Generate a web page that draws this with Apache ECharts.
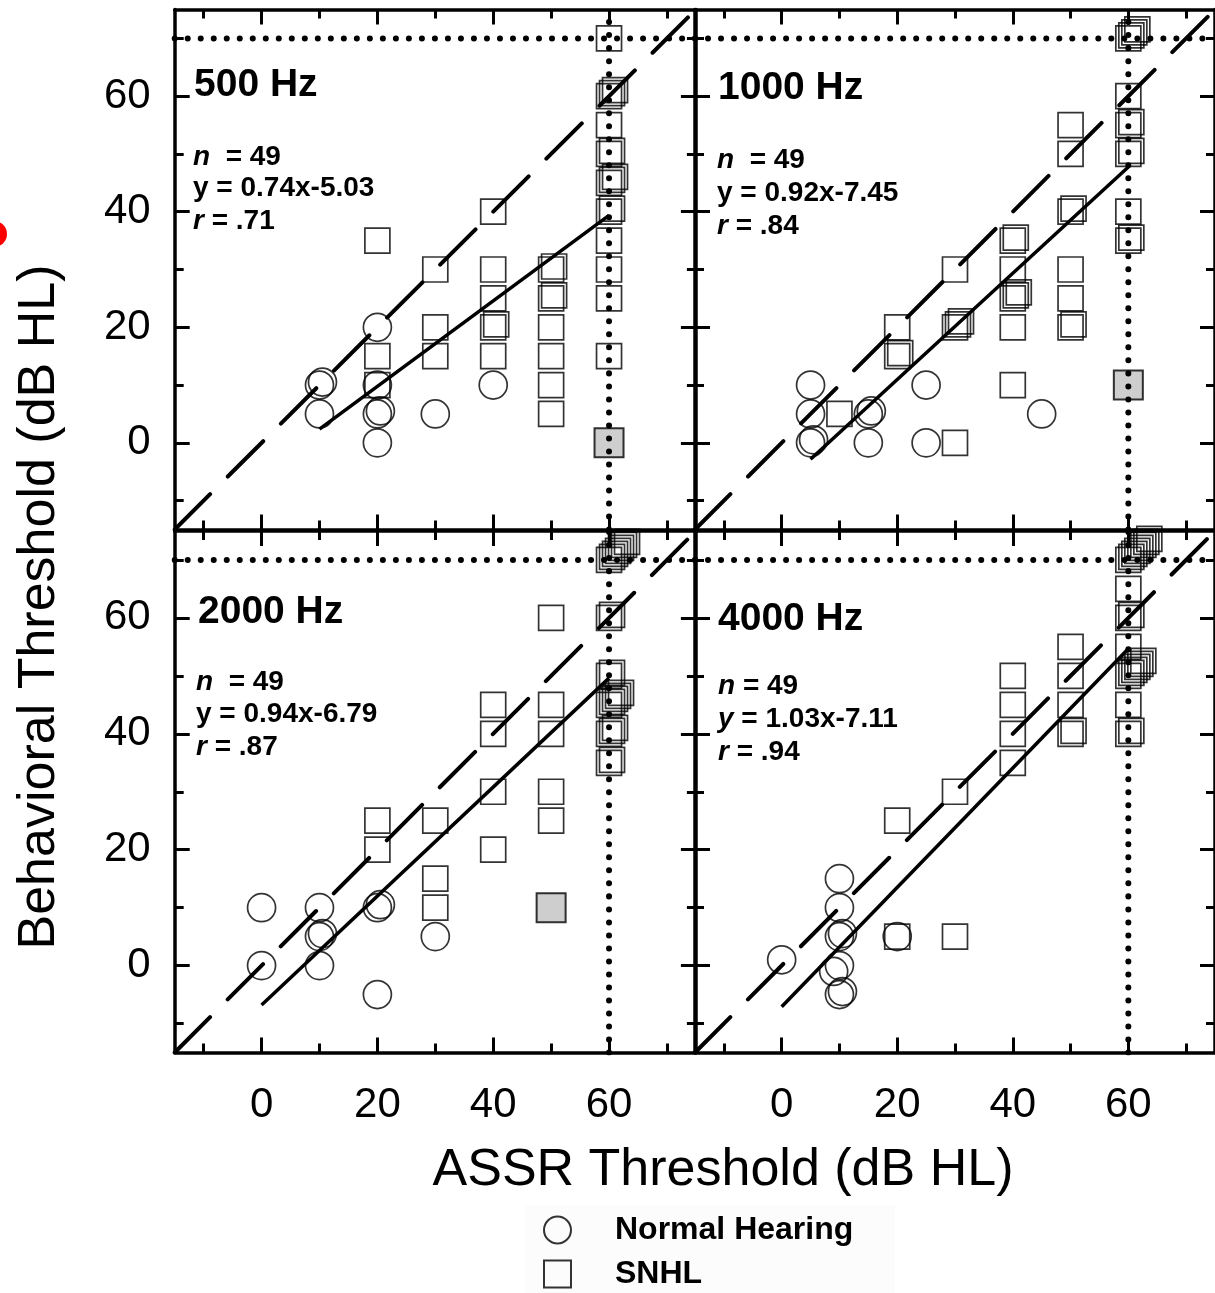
<!DOCTYPE html>
<html><head><meta charset="utf-8">
<script src="https://cdn.jsdelivr.net/npm/echarts@6/dist/echarts.min.js"></script>
<style>html,body{margin:0;padding:0;background:#fff}#c{width:1215px;height:1293px}</style>
</head><body><div id="c"></div>
<script>
// ---------------- data ----------------
const PANEL_TITLES = ['500 Hz', '1000 Hz', '2000 Hz', '4000 Hz'];
const N_VALUES = [49, 49, 49, 49];
const SLOPES = [0.74, 0.92, 0.94, 1.03];
const INTERCEPTS = [-5.03, -7.45, -6.79, -7.11];
const R_VALUES = ['.71', '.84', '.87', '.94'];
const FIT_X_RANGES = [[10, 60], [5, 60], [0, 60], [0, 60]];
const AXIS_RANGE = [-15, 75];
const TICK_LABELS = [0, 20, 40, 60];
const MINOR_TICKS = [-10, 10, 30, 50, 70];
const ASSR_CEILING = 60;
const BEHAV_CEILING = 70;

// [ASSR, behavioral, number of overlapping subjects]
const NH_500 = [[10,10,2],[10,5,1],[20,20,1],[20,10,1],[20,5,2],[20,0,1],[30,5,1],[40,10,1]];
const SNHL_500 = [[20,35,1],[20,15,1],[20,10,1],[30,30,1],[30,20,1],[30,15,1],[40,40,1],[40,30,1],[40,25,1],[40,20,2],[40,15,1],
  [50,30,2],[50,25,2],[50,20,1],[50,15,1],[50,10,1],[50,5,1],[60,70,1],[60,60,3],[60,55,1],[60,50,2],[60,45,3],[60,40,2],
  [60,35,1],[60,30,1],[60,25,1],[60,15,1]];
const GRAY_500 = [[60,0]];

const NH_1000 = [[5,10,1],[5,5,1],[5,0,2],[15,5,2],[15,0,1],[25,10,1],[25,0,1],[45,5,1]];
const SNHL_1000 = [[10,5,1],[20,20,1],[20,15,2],[30,30,1],[30,20,3],[30,0,1],[40,35,2],[40,30,1],[40,25,3],[40,20,1],[40,10,1],
  [50,55,1],[50,50,1],[50,40,2],[50,30,1],[50,25,1],[50,20,2],[60,70,4],[60,60,1],[60,55,2],[60,50,2],[60,40,1],[60,35,2]];
const GRAY_1000 = [[60,10]];

const NH_2000 = [[0,10,1],[0,0,1],[10,10,1],[10,5,2],[10,0,1],[20,10,2],[20,-5,1],[30,5,1]];
const SNHL_2000 = [[20,25,1],[20,20,1],[30,25,1],[30,15,1],[30,10,1],[40,45,1],[40,40,1],[40,30,1],[40,20,1],
  [50,60,1],[50,45,1],[50,40,1],[50,30,1],[50,25,1],[60,70,7],[60,60,2],[60,50,2],[60,45,5],[60,40,3],[60,35,2]];
const GRAY_2000 = [[50,10]];

const NH_4000 = [[0,1,1],[10,15,1],[10,10,1],[10,5,2],[10,0,1],[9,-1,1],[10,-5,2],[20,5,1]];
const SNHL_4000 = [[20,25,1],[20,5,1],[30,30,1],[30,5,1],[40,50,1],[40,45,1],[40,40,1],[40,35,1],[50,55,1],[50,50,1],[50,45,1],
  [50,40,2],[60,70,8],[60,65,1],[60,60,2],[60,55,1],[60,50,6],[60,45,1],[60,40,2]];
const GRAY_4000 = [];

const NH_ALL = [NH_500, NH_1000, NH_2000, NH_4000];
const SNHL_ALL = [SNHL_500, SNHL_1000, SNHL_2000, SNHL_4000];
const GRAY_ALL = [GRAY_500, GRAY_1000, GRAY_2000, GRAY_4000];

// ---------------- layout / style ----------------
const FF = '"Liberation Sans", Arial, sans-serif';
const GRIDS = [
  {left: 174.7, top: 9.5, width: 521.2, height: 520},
  {left: 695, top: 9.5, width: 521, height: 520},
  {left: 174.7, top: 531, width: 521.2, height: 521.5},
  {left: 695, top: 531, width: 521, height: 521.5}
];
const DUP_STEP = 3;

function expand(points) {
  const out = [];
  points.forEach(p => { for (let k = 0; k < p[2]; k++) out.push({value: [p[0], p[1]], symbolOffset: [k * DUP_STEP, -k * DUP_STEP]}); });
  return out;
}

const xAxes = [], yAxes = [], series = [];
const labelStyle = {color: '#000', fontFamily: FF, fontSize: 42};

function mkAxis(gi, pos, major, showLabel, isX) {
  return {
    type: 'value', gridIndex: gi, position: pos, min: AXIS_RANGE[0], max: AXIS_RANGE[1],
    axisLine: {show: major, onZero: false, lineStyle: {color: '#000', width: 3.5}},
    axisTick: {show: true, inside: true, length: major ? 15 : 9, lineStyle: {color: '#000', width: 3},
      customValues: major ? TICK_LABELS : MINOR_TICKS},
    axisLabel: Object.assign({show: showLabel, customValues: TICK_LABELS, margin: isX ? 32 : 24}, labelStyle),
    splitLine: {show: false}
  };
}

const mainX = [], mainY = [];
for (let g = 0; g < 4; g++) {
  const bottomRow = g >= 2, leftCol = g % 2 === 0;
  mainX[g] = xAxes.length;
  xAxes.push(mkAxis(g, 'bottom', true, bottomRow, true));
  xAxes.push(mkAxis(g, 'bottom', false, false, true));
  xAxes.push(mkAxis(g, 'top', true, false, true));
  xAxes.push(mkAxis(g, 'top', false, false, true));
  mainY[g] = yAxes.length;
  yAxes.push(mkAxis(g, 'left', true, leftCol, false));
  yAxes.push(mkAxis(g, 'left', false, false, false));
  yAxes.push(mkAxis(g, 'right', true, false, false));
  yAxes.push(mkAxis(g, 'right', false, false, false));
}

const markStyle = {color: 'rgba(0,0,0,0)', borderColor: '#000', borderWidth: 1.7};
for (let g = 0; g < 4; g++) {
  const common = {xAxisIndex: mainX[g], yAxisIndex: mainY[g], animation: false, emphasis: {disabled: true}, silent: true};
  series.push(Object.assign({
    type: 'scatter', name: 'Normal Hearing', symbol: 'circle', symbolSize: 28, itemStyle: markStyle, z: 3,
    data: expand(NH_ALL[g])
  }, common));
  const sq = expand(SNHL_ALL[g]);
  GRAY_ALL[g].forEach(p => sq.push({value: p, symbolSize: 29, itemStyle: {color: '#c2c2c2', borderColor: '#000', borderWidth: 2}}));
  series.push(Object.assign({
    type: 'scatter', name: 'SNHL', symbol: 'rect', symbolSize: 25, itemStyle: markStyle, z: 3, data: sq
  }, common));
  // identity line
  series.push(Object.assign({
    type: 'line', symbol: 'none', z: 5, clip: true,
    lineStyle: {color: '#000', width: 4, type: [50, 25], cap: 'round'},
    data: [[AXIS_RANGE[0], AXIS_RANGE[0]], [AXIS_RANGE[1], AXIS_RANGE[1]]]
  }, common));
  // regression line
  const fr = FIT_X_RANGES[g];
  series.push(Object.assign({
    type: 'line', symbol: 'none', z: 5,
    lineStyle: {color: '#000', width: 3.5},
    data: fr.map(x => [x, SLOPES[g] * x + INTERCEPTS[g]])
  }, common));
  // ceilings (dotted)
  const dotted = {color: '#000', width: 6, type: [0.01, 13], cap: 'round'};
  series.push(Object.assign({
    type: 'line', symbol: 'none', z: 6, lineStyle: dotted,
    data: [[AXIS_RANGE[0], BEHAV_CEILING], [AXIS_RANGE[1], BEHAV_CEILING]]
  }, common));
  series.push(Object.assign({
    type: 'line', symbol: 'none', z: 6, lineStyle: dotted,
    data: [[ASSR_CEILING, AXIS_RANGE[0]], [ASSR_CEILING, AXIS_RANGE[1]]]
  }, common));
}

// text annotations
const TITLE_POS = [[194, 85], [718, 88], [198, 612], [718, 619]];
const STAT_POS = [[193, 157, 188, 221], [717, 160, 193, 226], [196, 682, 714, 747], [718, 686, 719, 752]];
const STAT_FS = 28;
const graphics = [];
graphics.push({type: 'rect', shape: {x: 525, y: 1205, width: 370, height: 88}, style: {fill: '#fcfcfc'}, z: -10, silent: true});
graphics.push({type: 'circle', shape: {cx: -6, cy: 234, r: 13}, style: {fill: '#ff0000'}, silent: true});
const rich = {i: {fontStyle: 'italic', fontWeight: 'bold', fontSize: STAT_FS, fontFamily: FF, fill: '#000'},
              b: {fontWeight: 'bold', fontSize: STAT_FS, fontFamily: FF, fill: '#000'}};
for (let g = 0; g < 4; g++) {
  graphics.push({type: 'text', x: TITLE_POS[g][0], y: TITLE_POS[g][1], silent: true, z: 10,
    style: {text: PANEL_TITLES[g], fontSize: 39, fontWeight: 'bold', fontFamily: FF, fill: '#000', align: 'left', verticalAlign: 'middle'}});
  const sp = STAT_POS[g];
  const nTxt = g === 3 ? '{i|n}{b| = ' + N_VALUES[g] + '}' : '{i|n}{b|  = ' + N_VALUES[g] + '}';
  const b = INTERCEPTS[g];
  const eq = SLOPES[g].toFixed(2) + 'x' + (b < 0 ? '-' : '+') + Math.abs(b).toFixed(2);
  const yTxt = g === 3 ? '{i|y}{b| = ' + eq + '}' : '{b|y = ' + eq + '}';
  const rTxt = '{i|r}{b| = ' + R_VALUES[g] + '}';
  [[nTxt, sp[1]], [yTxt, sp[2]], [rTxt, sp[3]]].forEach(t => {
    graphics.push({type: 'text', x: sp[0], y: t[1], silent: true, z: 10,
      style: {text: t[0], rich: rich, fontSize: STAT_FS, fontWeight: 'bold', fontFamily: FF, fill: '#000', align: 'left', verticalAlign: 'middle'}});
  });
}
graphics.push({type: 'text', x: 40, y: 607, rotation: Math.PI / 2, silent: true,
  style: {text: 'Behavioral Threshold (dB HL)', fontSize: 52, fontFamily: FF, fill: '#000', align: 'center', verticalAlign: 'middle'}});
graphics.push({type: 'text', x: 723, y: 1171, silent: true,
  style: {text: 'ASSR Threshold (dB HL)', fontSize: 52, fontFamily: FF, fill: '#000', align: 'center', verticalAlign: 'middle'}});

const chart = echarts.init(document.getElementById('c'), null, {renderer: 'canvas'});
chart.setOption({
  backgroundColor: '#fff',
  animation: false,
  grid: GRIDS,
  xAxis: xAxes,
  yAxis: yAxes,
  legend: {
    orient: 'vertical', left: 543, top: 1214, padding: 0, itemWidth: 27, itemHeight: 27, itemGap: 12,
    selectedMode: false, data: ['Normal Hearing', 'SNHL'],
    textStyle: {fontFamily: FF, fontWeight: 'bold', fontSize: 32, color: '#000', padding: [0, 0, 0, 39]}
  },
  graphic: graphics,
  series: series
});
</script>
</body></html>
